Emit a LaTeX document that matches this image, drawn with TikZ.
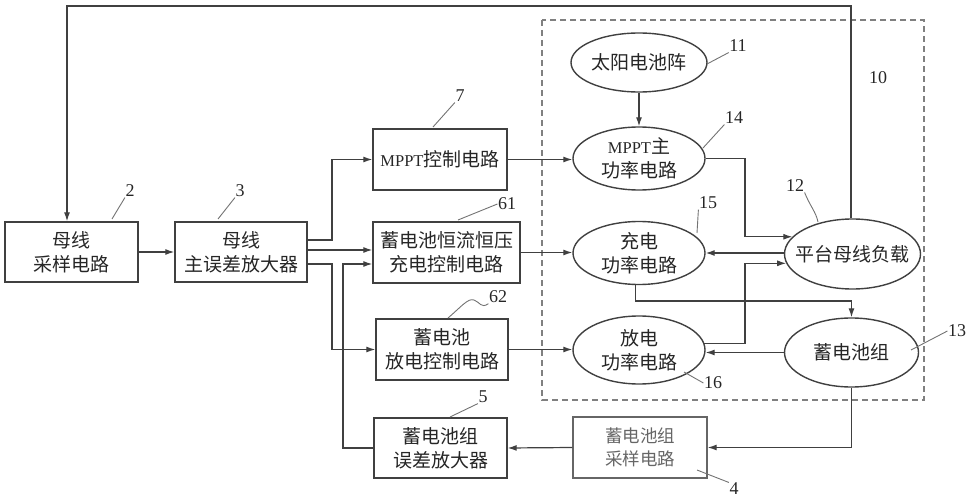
\documentclass[tikz,border=0pt]{standalone}
\usepackage{fontspec}
\setmainfont{Liberation Serif}
\newfontfamily\cjk{Noto Sans CJK SC}
\usetikzlibrary{shapes.geometric,arrows.meta}
\begin{document}
\begin{tikzpicture}[x=1pt,y=-1pt,
  line width=1.2pt,
  every node/.style={inner sep=0pt},
  txt/.style={font=\cjk\fontsize{19}{24}\selectfont, align=center, text=black!85},
  box/.style={txt, draw=black!75, line width=1.4pt, rectangle},
  ell/.style={txt, draw=black!75, line width=1.4pt, ellipse},
  arr/.style={draw=black!75, line width=1.2pt, -{Latex[length=9pt,width=6pt]}},
  lab/.style={font=\fontsize{18}{20}\selectfont, text=black!85},
  lead/.style={draw=black!55, line width=0.9pt}
]
\useasboundingbox (0,0) rectangle (967,500);

% dashed frame
\draw[black!50, line width=1.2pt, dash pattern=on 6pt off 4pt] (542,20) rectangle (924,400);

% boxes
\node[box, minimum width=133pt, minimum height=60pt] (b2) at (71.5,252) {母线\\采样电路};
\node[box, minimum width=132pt, minimum height=60pt] (b3) at (241,252) {母线\\主误差放大器};
\node[box, minimum width=134pt, minimum height=61pt] (b7) at (440,159.5) {\textrm{\fontsize{16.5}{20}\selectfont MPPT}控制电路};
\node[box, minimum width=147pt, minimum height=61pt] (b61) at (446.5,252.5) {蓄电池恒流恒压\\充电控制电路};
\node[box, minimum width=132pt, minimum height=61pt] (b62) at (442,349.5) {蓄电池\\放电控制电路};
\node[box, minimum width=133pt, minimum height=60pt] (b5) at (440.5,448) {蓄电池组\\误差放大器};
\node[box, draw=black!60, text=black!60, font=\cjk\fontsize{17.5}{23}\selectfont, minimum width=134pt, minimum height=61pt] (b4) at (640,447.5) {蓄电池组\\采样电路};

% ellipses
\node[ell, inner sep=-3pt, minimum width=136pt, minimum height=59pt] (e11) at (639,62.5) {太阳电池阵};
\node[ell, minimum width=132pt, minimum height=63pt] (e14) at (639,158.5) {\textrm{\fontsize{16.5}{20}\selectfont MPPT}主\\功率电路};
\node[ell, minimum width=132pt, minimum height=63pt] (e15) at (639,253) {充电\\功率电路};
\node[ell, minimum width=132pt, minimum height=68pt] (e16) at (639,350) {放电\\功率电路};
\node[ell, inner sep=-10pt, minimum width=136pt, minimum height=70pt] (e12) at (852.5,254) {平台母线负载};
\node[ell, minimum width=134pt, minimum height=69pt] (e13) at (851.5,352.5) {蓄电池组};

% helper coordinates
\coordinate (t1) at (851,6);
\coordinate (t2) at (67,6);
\coordinate (jA) at (332,240);
\coordinate (jB) at (332,250);
\coordinate (jC) at (332,264);
\coordinate (jD) at (343,264);
\coordinate (jE) at (745,0);
\coordinate (jF) at (0,301);

% connectors
\draw[arr] (b2.east) -- (b3.west);
\draw[arr] (e12.north -| t1) -- (t1) -- (t2) -- (t2 |- b2.north);
\draw[arr] (b3.east |- jA) -- (jA) |- (b7.west);
\draw[arr] (b3.east |- jB) -- (b61.west |- jB);
\draw[arr] (b3.east |- jC) -- (jC) |- (b62.west);
\draw[arr] (b5.west) -| (jD) -- (b61.west |- jD);
\draw[arr] (b7.east) -- (e14.west |- b7.east);
\draw[arr] (b61.east) -- (e15.west |- b61.east);
\draw[arr] (b62.east) -- (e16.west |- b62.east);
\draw[arr] (e11.south) -- (e14.north);
\draw[arr] (e14.east) -- (e14.east -| jE) -- (jE |- e12.164) -- (e12.164);
\draw[arr] (e12.west |- e15.east) -- (e15.east);
\draw[arr] (e16.6) -- (e16.6 -| jE) -- (jE |- e12.188) -- (e12.188);
\draw[arr] (e15.264) -- (e15.264 |- jF) -- (e13.north |- jF) -- (e13.north);
\draw[arr] (e13.west) -- (e16.east |- e13.west);
\draw[arr] (e13.south) |- (b4.east);
\draw[arr] (b4.west) -- (b5.east);

% labels and leaders
\node[lab] (l2) at (130,191) {2};
\draw[lead] (112,219) -- (l2.south west);
\node[lab] (l3) at (240,191) {3};
\draw[lead] (218,219) -- (l3.south west);
\node[lab] (l7) at (460,96) {7};
\draw[lead] (433,127) -- (l7.south west);
\node[lab] (l61) at (507,204) {61};
\draw[lead] (458,220) -- (l61.west);
\node[lab] (l62) at (498,297) {62};
\draw[lead] (448,318) .. controls (462,306) and (468,298) .. (474,300) .. controls (480,302) and (481,309) .. (l62.south west);
\node[lab] (l5) at (483,397) {5};
\draw[lead] (450,417) -- (l5.south west);
\node[lab] (l11) at (738,46) {11};
\draw[lead] (707,64) -- (l11.south west);
\node[lab] (l10) at (878,78) {10};
\node[lab] (l14) at (734,118) {14};
\draw[lead] (703,148) -- (l14.south west);
\node[lab] (l12) at (795,186) {12};
\draw[lead] (818,222) .. controls (816,212) and (810,206) .. (l12.south east);
\node[lab] (l15) at (708,203) {15};
\draw[lead] (697,233) -- (l15.south west);
\node[lab] (l13) at (957,331) {13};
\draw[lead] (911,350) -- (l13.west);
\node[lab] (l16) at (713,383) {16};
\draw[lead] (684,372) -- (l16.west);
\node[lab] (l4) at (734,489) {4};
\draw[lead] (697,470) -- (l4.north west);
\end{tikzpicture}
\end{document}
